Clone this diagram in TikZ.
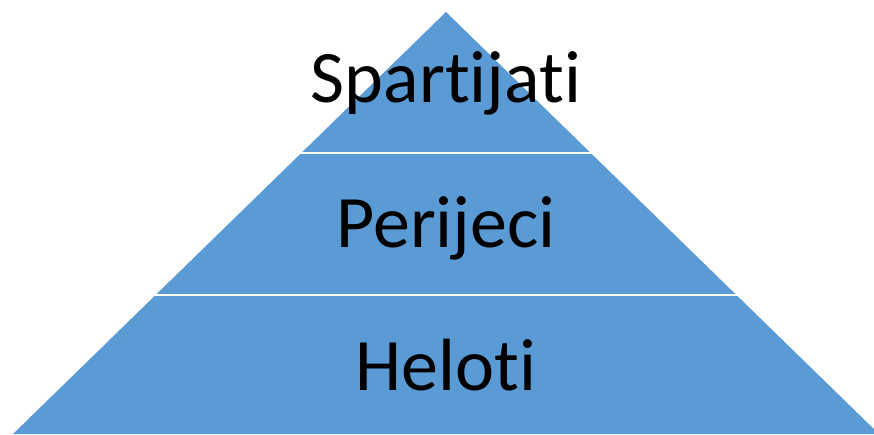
\documentclass[tikz,border=0pt]{standalone}
\usepackage{fontspec}
\setmainfont[Ligatures={NoCommon,NoContextual}]{Carlito}
\definecolor{pyrblue}{HTML}{5B9BD5}
\begin{document}
\begin{tikzpicture}[x=1pt,y=1pt,
  layer/.style={fill=pyrblue,draw=none},
  sep/.style={draw=white,line width=2.4pt},
  lbl/.style={anchor=base,inner sep=0pt,font=\fontsize{74}{80}\selectfont,text=black}]
\useasboundingbox (0,0) rectangle (874,434);
\begin{scope}
\clip (0,0) rectangle (874,434);
\coordinate (apex) at (446,422);
\coordinate (bl) at (13,0);
\coordinate (br) at (879,0);
\fill[layer] (apex) -- (br) -- (bl) -- cycle;
\coordinate (l1) at (300.3,281);
\coordinate (r1) at (591.7,281);
\coordinate (l2) at (154.6,139);
\coordinate (r2) at (737.4,139);
\draw[sep] (l1) -- (r1);
\draw[sep] (l2) -- (r2);
\end{scope}
\node[lbl] (t1) at (446,331) {Spart\kern0pt ijat\kern0pt i};
\node[lbl] (t2) at (446,187) {Perijeci};
\node[lbl] (t3) at (446,44) {Helot\kern0pt i};
\end{tikzpicture}
\end{document}
